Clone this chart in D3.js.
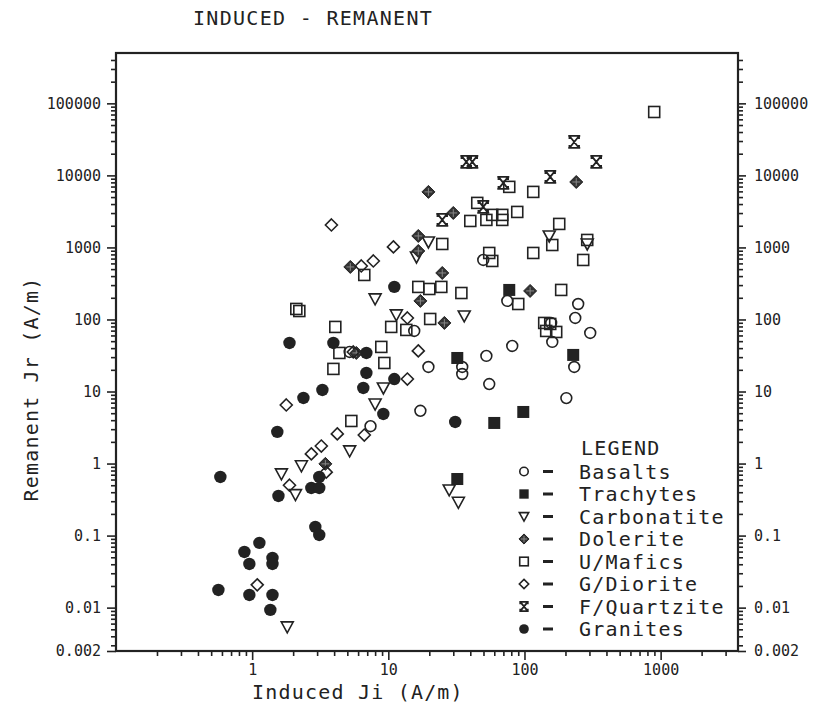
<!DOCTYPE html>
<html>
<head>
<meta charset="utf-8">
<script src="https://cdn.jsdelivr.net/npm/d3@7"></script>
<style>
  body { margin: 0; background: #fff; }
  text { font-family: "DejaVu Sans Mono", monospace; fill: #222; }
</style>
</head>
<body>
<div id="chart"></div>
<script>

// values: [induced Ji, remanent Jr] in A/m
var basalts = [[49.8,670],[74.8,181],[248,164],[236,105],[304,65],[157,89.5],[160,48.8],
	[81.3,42.9],[52.5,31.2],[34.9,21.9],[34.9,17.5],[19.7,21.9],[232,21.9],[55.1,12.7],
	[203,8.1],[17.2,5.4],[7.4,3.3],[5.2,35.4],[15.5,69.3]];
var trachytes = [[77.3,257],[32.1,29.2],[228,32.2],[98,5.2],[60,3.66],[32.1,0.61]];
var carbonatite = [[8.0,193],[11.45,116],[36.1,112],[19.7,1190],[16.1,737],[152,1443],
	[289,1117],[9.2,11.2],[8.0,6.7],[5.2,1.5],[2.3,0.93],[1.64,0.72],[2.08,0.37],
	[28,0.43],[32.7,0.29],[1.81,0.0054]];
var dolerite = [[19.7,5900],[240,8100],[30,3010],[16.6,1443],[16.6,893],[24.9,442],
	[17.2,181],[25.8,89.5],[110,249],[5.26,536],[5.82,34.3],[3.45,0.99]];
var umafics = [[897,75900],[77.3,6930],[116,5900],[45,4150],[40,2330],[52.5,2410],
	[58,2830],[68.7,2830],[68.7,2410],[88.5,3110],[180,2120],[24.9,1117],[160,1081],
	[116,838],[289,1270],[270,670],[55.1,838],[58,649],[6.66,415],[16.6,283],[20,265],
	[24.5,283],[34.4,233],[90,164],[186,257],[20.3,101.6],[139.6,89.5],[154.6,86.7],
	[144.4,69.3],[171,67.1],[10.5,78.8],[13.56,71.6],[4.08,78.8],[2.11,140],[2.22,131],
	[4.37,34.3],[8.88,41.6],[9.35,24.9],[3.95,20.6],[5.35,3.9]];
var gdiorite = [[3.82,2050],[10.9,1016],[7.76,649],[6.33,553],[13.8,105],[16.6,36.6],
	[5.53,35.4],[13.8,14.9],[1.78,6.5],[6.66,2.49],[4.22,2.58],[3.22,1.75],[2.72,1.36],
	[3.5,0.76],[1.88,0.5],[1.09,0.0207]];
var fquartzite = [[232,29100],[337,15380],[37.4,15380],[41.4,15380],[69.9,7870],
	[154.6,9530],[49.8,3650],[24.9,2410]];
var granites = [[11.07,283],[1.88,47.2],[3.95,47.2],[6.9,34.3],[6.9,18.1],[6.55,11.2],
	[11.07,14.9],[9.19,4.88],[3.28,10.5],[2.38,8.14],[1.53,2.75],[31,3.78],[0.584,0.652],
	[1.56,0.355],[3.11,0.652],[2.72,0.458],[3.11,0.458],[2.91,0.132],[3.11,0.102],
	[1.13,0.0791],[0.877,0.0593],[0.954,0.0404],[1.41,0.049],[1.41,0.0404],[0.565,0.0176],
	[0.954,0.015],[1.41,0.015],[1.36,0.0093]];

var seriesNames = ["Basalts", "Trachytes", "Carbonatite", "Dolerite", "U/Mafics",
	"G/Diorite", "F/Quartzite", "Granites"];
var seriesKinds = ["circleOpen", "squareFilled", "triangle", "dolerite", "squareOpen",
	"diamond", "hourglass", "circleFilled"];
var seriesData = [basalts, trachytes, carbonatite, dolerite, umafics, gdiorite, fquartzite, granites];

var xTicks = [1, 10, 100, 1000];
var xTickLabels = ["1", "10", "100", "1000"];
var yTicks = [0.0025, 0.01, 0.1, 1, 10, 100, 1000, 10000, 100000];
var yTickLabels = ["0.002", "0.01", "0.1", "1", "10", "100", "1000", "10000", "100000"];

var width = 816;
var height = 705;
var ink = "#222";

var svg = d3.select("#chart")
		.append("svg")
		.attr("width", width)
		.attr("height", height);

var xScale = d3.scaleLog().domain([0.1, 3700]).range([116, 738]);
var yScale = d3.scaleLog().domain([0.0025, 500000]).range([651, 53]);

// minor ticks 2..9 in every decade
var xMinor = [];
for (var e = -1; e <= 3; e++) {
	for (var m = 2; m <= 9; m++) {
		var v = m * Math.pow(10, e);
		if (v < 3700) xMinor.push(v);
	}
}
var yMinor = [];
for (var e = -3; e <= 5; e++) {
	for (var m = 2; m <= 9; m++) {
		var v = m * Math.pow(10, e);
		if (v > 0.0025 && v < 500000) yMinor.push(v);
	}
}

function styleAxis(g) {
	g.select(".domain").remove();
	g.selectAll("line").attr("stroke", ink).attr("stroke-width", 1.6);
	g.selectAll("text").attr("font-size", 15).attr("fill", ink)
		.style("font-family", "'DejaVu Sans Mono', monospace");
}

// left axis
svg.append("g").attr("transform", "translate(116,0)")
	.call(d3.axisLeft(yScale).tickValues(yMinor).tickSize(5).tickFormat(""))
	.call(styleAxis);
svg.append("g").attr("transform", "translate(116,0)")
	.call(d3.axisLeft(yScale).tickValues(yTicks).tickSize(9).tickPadding(6)
		.tickFormat(function(d, i) { return yTickLabels[i]; }))
	.call(styleAxis);

// right axis
svg.append("g").attr("transform", "translate(738,0)")
	.call(d3.axisRight(yScale).tickValues(yMinor).tickSize(5).tickFormat(""))
	.call(styleAxis);
svg.append("g").attr("transform", "translate(738,0)")
	.call(d3.axisRight(yScale).tickValues(yTicks).tickSize(8).tickPadding(8)
		.tickFormat(function(d, i) { return yTickLabels[i]; }))
	.call(styleAxis);

// bottom axis
svg.append("g").attr("transform", "translate(0,651)")
	.call(d3.axisBottom(xScale).tickValues(xMinor).tickSize(5).tickFormat(""))
	.call(styleAxis);
svg.append("g").attr("transform", "translate(0,651)")
	.call(d3.axisBottom(xScale).tickValues(xTicks).tickSize(9).tickPadding(4)
		.tickFormat(function(d, i) { return xTickLabels[i]; }))
	.call(styleAxis);

// frame
svg.append("rect")
	.attr("x", 116)
	.attr("y", 53)
	.attr("width", 622)
	.attr("height", 598)
	.attr("fill", "none")
	.attr("stroke", ink)
	.attr("stroke-width", 2.2);

// titles
svg.append("text")
	.attr("x", 193)
	.attr("y", 25)
	.attr("font-size", 20)
	.attr("letter-spacing", 1.3)
	.text("INDUCED - REMANENT");

svg.append("text")
	.attr("x", 252)
	.attr("y", 699)
	.attr("font-size", 20)
	.attr("letter-spacing", 1.2)
	.text("Induced Ji (A/m)");

svg.append("text")
	.attr("transform", "translate(38,389) rotate(-90)")
	.attr("text-anchor", "middle")
	.attr("font-size", 20)
	.attr("letter-spacing", 1.2)
	.text("Remanent Jr (A/m)");

// marker drawing
function drawMarker(sel, kind, s) {
	var h = 6 * s;
	if (kind === "circleOpen") {
		sel.append("circle").attr("r", 5.4 * s)
			.attr("fill", "none").attr("stroke", ink).attr("stroke-width", 1.6);
	} else if (kind === "circleFilled") {
		sel.append("circle").attr("r", 6.2 * s).attr("fill", ink);
	} else if (kind === "squareOpen") {
		sel.append("rect").attr("x", -5.5 * s).attr("y", -5.5 * s)
			.attr("width", 11 * s).attr("height", 11 * s)
			.attr("fill", "none").attr("stroke", ink).attr("stroke-width", 1.6);
	} else if (kind === "squareFilled") {
		sel.append("rect").attr("x", -6 * s).attr("y", -6 * s)
			.attr("width", 12 * s).attr("height", 12 * s).attr("fill", ink);
	} else if (kind === "triangle") {
		sel.append("path")
			.attr("d", "M" + (-h) + "," + (-5 * s) + "L" + h + "," + (-5 * s) + "L0," + (6 * s) + "Z")
			.attr("fill", "none").attr("stroke", ink).attr("stroke-width", 1.6);
	} else if (kind === "diamond") {
		sel.append("path")
			.attr("d", "M0," + (-h) + "L" + h + ",0L0," + h + "L" + (-h) + ",0Z")
			.attr("fill", "none").attr("stroke", ink).attr("stroke-width", 1.6);
	} else if (kind === "dolerite") {
		var d = 6.5 * s;
		sel.append("path")
			.attr("d", "M0," + (-d) + "L" + d + ",0L0," + d + "L" + (-d) + ",0Z")
			.attr("fill", "#333").attr("stroke", ink).attr("stroke-width", 1);
		sel.append("path")
			.attr("d", "M" + (-d * 0.6) + ",0H" + (d * 0.6) + "M0," + (-d * 0.6) + "V" + (d * 0.6))
			.attr("stroke", "#888").attr("stroke-width", 1);
	} else if (kind === "hourglass") {
		sel.append("path")
			.attr("d", "M" + (-h) + "," + (-h) + "H" + h + "M" + (-h) + "," + h + "H" + h +
				"M" + (-h * 0.8) + "," + (-h) + "L" + (h * 0.8) + "," + h +
				"M" + (h * 0.8) + "," + (-h) + "L" + (-h * 0.8) + "," + h +
				"M" + (-h * 0.8) + "," + (-h) + "V" + (-h * 0.5) +
				"M" + (h * 0.8) + "," + (-h) + "V" + (-h * 0.5) +
				"M" + (-h * 0.8) + "," + h + "V" + (h * 0.5) +
				"M" + (h * 0.8) + "," + h + "V" + (h * 0.5))
			.attr("fill", "none").attr("stroke", ink).attr("stroke-width", 1.8);
	}
}

// points
seriesData.forEach(function(data, k) {
	svg.append("g")
		.selectAll("g")
		.data(data)
		.enter()
		.append("g")
		.attr("transform", function(d) {
			return "translate(" + xScale(d[0]) + "," + yScale(d[1]) + ")";
		})
		.each(function() { drawMarker(d3.select(this), seriesKinds[k], 1); });
});

// legend
var legend = svg.append("g");
legend.append("text")
	.attr("x", 581)
	.attr("y", 455)
	.attr("font-size", 20)
	.attr("letter-spacing", 1.2)
	.text("LEGEND");

var rows = legend.selectAll(".row")
	.data(seriesNames)
	.enter()
	.append("g")
	.attr("class", "row")
	.attr("transform", function(d, i) {
		return "translate(0," + (471.5 + i * 22.5) + ")";
	});

rows.each(function(d, i) {
	var g = d3.select(this).append("g").attr("transform", "translate(524,0)");
	drawMarker(g, seriesKinds[i], 0.78);
});

rows.append("rect")
	.attr("x", 543)
	.attr("y", -1.5)
	.attr("width", 10)
	.attr("height", 3)
	.attr("fill", ink);

rows.append("text")
	.attr("x", 579)
	.attr("y", 7)
	.attr("font-size", 20)
	.attr("letter-spacing", 1.2)
	.text(function(d) { return d; });

</script>
</body>
</html>
